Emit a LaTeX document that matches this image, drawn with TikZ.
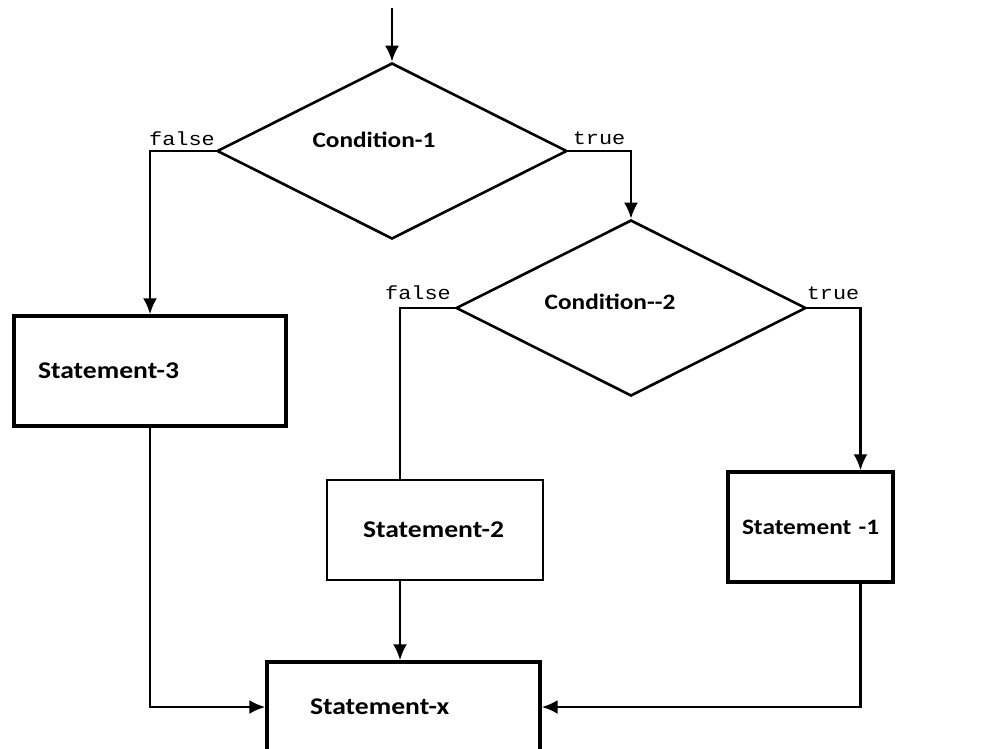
\documentclass[tikz,border=0pt]{standalone}
\usepackage{fontspec}
\usetikzlibrary{positioning, arrows.meta, shapes.geometric}
\newfontfamily\flowfont{Carlito}[FakeStretch=1.15]
\newfontfamily\flagfont{Liberation Mono}[FakeStretch=1.15]

\begin{document}
\begin{tikzpicture}[
	x=1pt, y=-1pt,
	decision/.style={diamond, draw, line width=2.6pt, inner sep=0pt, minimum width=350pt, minimum height=176pt},
	condtext/.style={inner sep=0pt, font=\flowfont\bfseries\fontsize{22}{26}\selectfont},
	flag/.style={inner sep=0pt, font=\flagfont\fontsize{19}{22}\selectfont},
	stmt/.style={rectangle, draw, line width=3.4pt, align=left, font=\flowfont\bfseries\fontsize{24}{28}\selectfont},
	thinstmt/.style={stmt, line width=2pt},
	flow/.style={line width=2.6pt},
	>={Latex[length=16pt, width=14pt]}
]
\useasboundingbox (0,0) rectangle (988,748);

% decisions
\node[decision] (cond1) at (392,151) {};
\node[condtext] (cond1_text) at (374,140) {Condition-1};
\node[decision] (cond2) at (631,308) {};
\node[condtext] (cond2_text) at (610,302) {Condition--2};

% branch flags
\node[flag] (cond1_false) at (182,139) {false};
\node[flag] (cond1_true) at (599,138) {true};
\node[flag] (cond2_false) at (418,293) {false};
\node[flag] (cond2_true) at (833,293) {true};

% statements
\node[stmt, text width=224pt, inner xsep=24pt, minimum height=110pt] (stmt3) at (150,371) {Statement-3};
\node[thinstmt, text width=144pt, inner xsep=36pt, minimum height=100pt] (stmt2) at (435,530) {\mbox{Statement-2}};
\node[stmt, text width=137pt, inner xsep=14pt, minimum height=110pt,
	font=\flowfont\bfseries\fontsize{22}{26}\selectfont] (stmt1) at (810.5,527) {\mbox{Statement -1}};
\node[stmt, text width=187pt, inner xsep=43pt, minimum height=90pt] (stmtx) at (403.5,707) {Statement-x};

\coordinate (entry) at (392,8);

\draw[flow, ->] (entry) -- (cond1.north);
\draw[flow, ->] (cond1.west) -| (stmt3.north);
\draw[flow, ->] (cond1.east) -| (cond2.north);
\draw[flow] (cond2.west) -| ([xshift=-35pt]stmt2.north);
\draw[flow, ->] (cond2.east) -| ([xshift=50pt]stmt1.north);
\draw[flow, ->] ([xshift=-35pt]stmt2.south) -- ([xshift=-35pt]stmt2.south |- stmtx.north);
\draw[flow, ->] (stmt3.south) |- (stmtx.west);
\draw[flow, ->] ([xshift=50pt]stmt1.south) |- (stmtx.east);
\end{tikzpicture}
\end{document}
